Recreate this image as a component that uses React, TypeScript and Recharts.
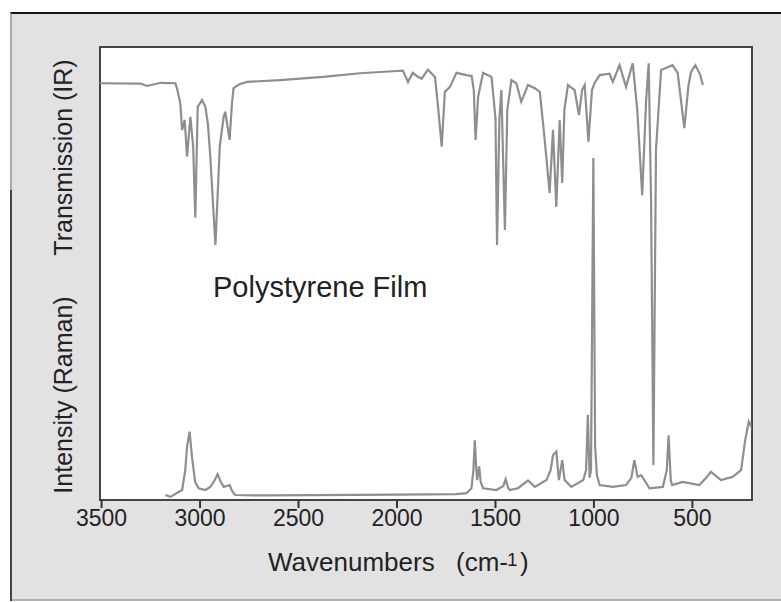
import React from "react";
import { LineChart, Line, XAxis, YAxis } from "recharts";

// IR transmission, wavenumber (cm-1) vs % of plot height
const irWave = [3508, 3300, 3270, 3200, 3125, 3115, 3100, 3091, 3078, 3066, 3049, 3035, 3024, 3012, 2990, 2973, 2960, 2948, 2922, 2910, 2900, 2880, 2872, 2850, 2838, 2830, 2800, 2762, 2593, 2375, 2187, 2000, 1970, 1944, 1920, 1900, 1875, 1843, 1807, 1790, 1773, 1757, 1731, 1698, 1647, 1621, 1610, 1601, 1588, 1563, 1520, 1500, 1492, 1480, 1470, 1452, 1440, 1419, 1394, 1369, 1335, 1300, 1275, 1250, 1225, 1208, 1191, 1174, 1161, 1150, 1132, 1098, 1076, 1060, 1047, 1028, 1010, 997, 971, 921, 904, 870, 837, 803, 780, 755, 735, 722, 710, 698, 685, 659, 601, 575, 541, 520, 507, 485, 460, 447];
const irValue = [92.0, 91.9, 91.4, 92.1, 92.0, 90.5, 87.5, 81.7, 83.9, 75.8, 84.6, 78.0, 62.3, 86.8, 88.3, 86.8, 83.0, 75.8, 56.3, 68.0, 78.0, 84.6, 85.7, 79.5, 87.5, 90.9, 91.8, 92.3, 92.7, 93.4, 94.2, 94.7, 94.8, 92.3, 94.3, 93.6, 93.0, 95.0, 93.4, 86.1, 78.0, 90.1, 91.2, 94.3, 93.8, 93.6, 90.5, 79.5, 89.0, 94.3, 93.4, 84.3, 56.3, 84.3, 90.5, 59.6, 86.1, 92.7, 92.0, 87.9, 91.6, 90.9, 90.1, 79.5, 67.8, 81.7, 64.7, 83.9, 70.0, 86.1, 91.6, 90.5, 85.0, 90.5, 91.6, 79.1, 90.5, 92.0, 93.8, 94.1, 92.3, 96.0, 91.2, 96.4, 86.1, 67.3, 88.3, 96.4, 66.2, 7.7, 77.3, 94.9, 96.0, 94.3, 82.1, 91.6, 94.5, 96.0, 93.8, 91.6];

// Raman intensity, same scale
const ramanWave = [3176, 3150, 3120, 3091, 3075, 3066, 3053, 3041, 3025, 3007, 2973, 2948, 2925, 2911, 2895, 2880, 2850, 2835, 2821, 2700, 2650, 2000, 1700, 1647, 1622, 1612, 1605, 1597, 1593, 1583, 1575, 1563, 1495, 1460, 1448, 1435, 1428, 1386, 1335, 1300, 1241, 1220, 1208, 1191, 1178, 1161, 1149, 1115, 1054, 1040, 1031, 1022, 1015, 1003, 994, 985, 971, 904, 837, 810, 795, 778, 760, 718, 650, 630, 621, 610, 603, 549, 465, 430, 406, 355, 296, 253, 232, 214, 202, 200];
const ramanValue = [1.1, 0.7, 1.5, 2.2, 6.6, 11.8, 15.1, 9.5, 4.0, 2.6, 2.2, 2.9, 4.4, 5.7, 4.0, 2.9, 3.3, 1.8, 1.1, 1.0, 1.0, 1.2, 1.3, 1.5, 2.6, 6.6, 13.2, 6.6, 4.4, 7.4, 4.0, 2.6, 2.2, 3.1, 4.6, 2.6, 2.2, 2.6, 4.3, 2.9, 4.4, 6.6, 9.9, 10.7, 4.4, 8.8, 4.4, 2.9, 4.4, 6.6, 18.8, 4.9, 6.6, 75.5, 11.8, 5.5, 3.3, 2.9, 3.3, 4.9, 8.8, 5.1, 5.5, 2.6, 2.9, 6.6, 14.3, 4.4, 3.3, 4.0, 3.3, 4.9, 6.2, 4.4, 5.1, 6.6, 13.2, 17.3, 16.3, 17.2];

const xTicks = [3500, 3000, 2500, 2000, 1500, 1000, 500];

const irData = irWave.map((w, i) => ({ w, v: irValue[i] }));
const ramanData = ramanWave.map((w, i) => ({ w, v: ramanValue[i] }));

const font = "'Liberation Sans', Arial, Helvetica, sans-serif";
const lineColor = "#8e8e8e";

export default function App() {
  return (
    <div style={{ position: "absolute", left: 0, top: 0, width: 781, height: 602, background: "#fff", fontFamily: font }}>
      <div
        style={{
          position: "absolute",
          left: 10,
          top: 12,
          width: 771,
          height: 589,
          boxSizing: "border-box",
          background: "#e2e2e2",
          borderTop: "2px solid #111",
          borderLeft: "2px solid #a8a8a8",
          borderBottom: "2px solid #b0b0b0",
        }}
      />
      <div style={{ position: "absolute", left: 10, top: 190, width: 2, height: 411, background: "#444" }} />
      <div
        style={{
          position: "absolute",
          left: 98.5,
          top: 46,
          width: 654,
          height: 455,
          boxSizing: "border-box",
          background: "#fff",
          border: "2.5px solid #444",
        }}
      />
      <div style={{ position: "absolute", left: 0, top: 0 }}>
        <LineChart width={781} height={602} margin={{ top: 47, right: 29.5, bottom: 72, left: 100 }}>
          <XAxis
            dataKey="w"
            type="number"
            domain={[200, 3508]}
            reversed
            allowDataOverflow
            ticks={xTicks}
            interval={0}
            height={30}
            axisLine={false}
            tickSize={8}
            tickMargin={2}
            tickLine={{ stroke: "#333", strokeWidth: 2 }}
            tick={{ fill: "#222", fontSize: 23, fontFamily: font }}
          />
          <YAxis hide type="number" domain={[0, 100]} allowDataOverflow />
          <Line data={irData} dataKey="v" type="linear" stroke={lineColor} strokeWidth={2.2} dot={false} isAnimationActive={false} />
          <Line data={ramanData} dataKey="v" type="linear" stroke={lineColor} strokeWidth={2.2} dot={false} isAnimationActive={false} />
        </LineChart>
      </div>
      <svg width={781} height={602} style={{ position: "absolute", left: 0, top: 0, pointerEvents: "none" }}>
        <g fontFamily={font} fill="#222">
          <text x={213} y={297} fontSize={29}>Polystyrene Film</text>
          <text transform="translate(71.5,157.5) rotate(-90)" textAnchor="middle" fontSize={25}>Transmission (IR)</text>
          <text transform="translate(71.5,395) rotate(-90)" textAnchor="middle" fontSize={25}>Intensity (Raman)</text>
          <text x={268} y={571} fontSize={26}>Wavenumbers</text>
          <text x={456} y={571} fontSize={26}>(cm-</text>
          <text x={507} y={566} fontSize={19}>1</text>
          <text x={520} y={571} fontSize={26}>)</text>
        </g>
      </svg>
    </div>
  );
}
